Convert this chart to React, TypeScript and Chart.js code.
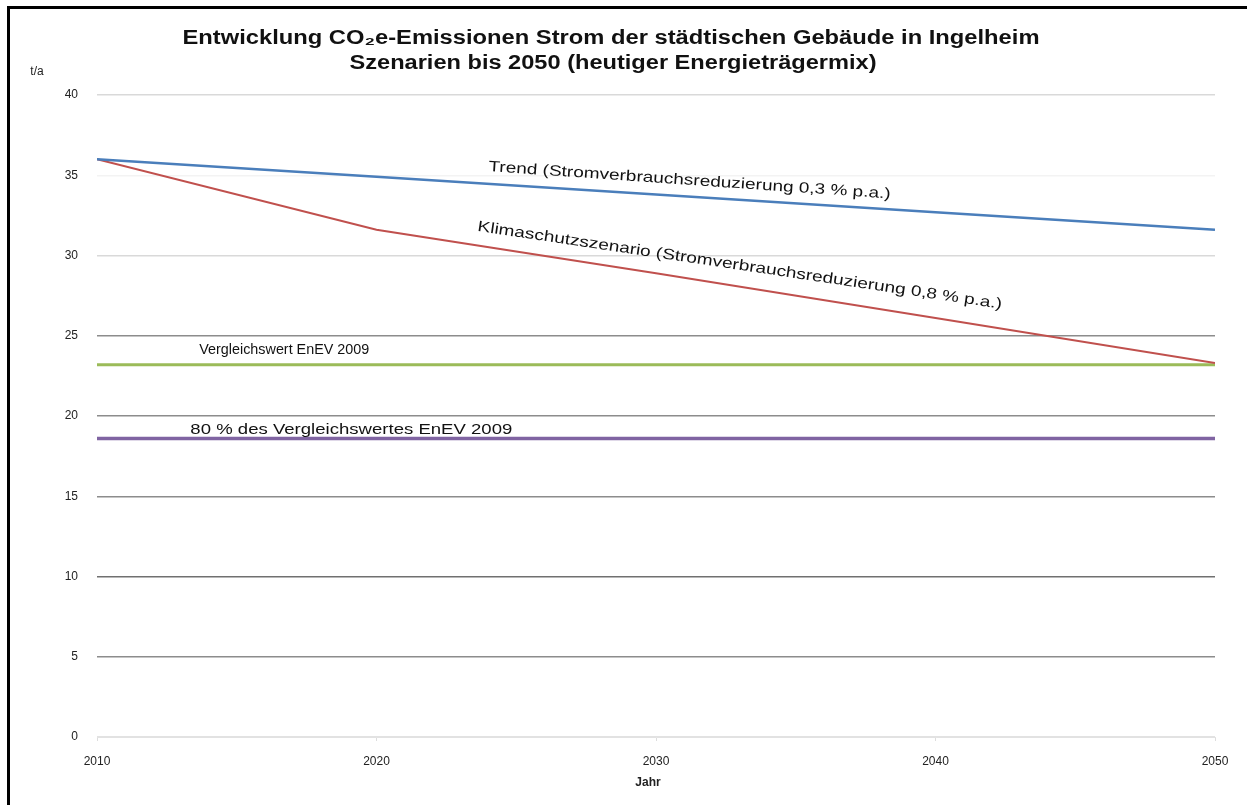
import { useEffect, useRef } from "react";
import { Chart, registerables } from "chart.js";

Chart.register(...registerables);

// Years on the x axis and the four scenario series (t/a)
const years = [2010, 2020, 2030, 2040, 2050];
const trend = [36.0, 34.9, 33.8, 32.7, 31.6];
const klimaschutz = [36.0, 31.6, 28.9, 26.1, 23.3];
const vergleichswert = [23.2, 23.2, 23.2, 23.2, 23.2];
const vergleichswert80 = [18.6, 18.6, 18.6, 18.6, 18.6];

const yTicks = [0, 5, 10, 15, 20, 25, 30, 35, 40];
const xTicks = [2010, 2020, 2030, 2040, 2050];

const titleLines = [
  "Entwicklung CO₂e-Emissionen Strom der städtischen Gebäude in Ingelheim",
  "Szenarien bis 2050 (heutiger Energieträgermix)",
];
const unitLabel = "t/a";
const xAxisLabel = "Jahr";
const seriesNames = [
  "Trend (Stromverbrauchsreduzierung 0,3 % p.a.)",
  "Klimaschutzszenario (Stromverbrauchsreduzierung 0,8 % p.a.)",
  "Vergleichswert EnEV 2009",
  "80 % des Vergleichswertes EnEV 2009",
];
const seriesColors = ["#4A7EBB", "#C0504D", "#9BBB59", "#8064A2"];
const seriesWidths = [2.5, 2, 3, 3.5];

// Where each in-chart series label sits: year of its centre, lift above the line,
// drawn width and a small tilt correction relative to the line (radians)
const labelPlacement = [
  { year: 2031.2, lift: 16, width: 403, tilt: 0.005 },
  { year: 2033.0, lift: 21, width: 530, tilt: -0.012 },
  { year: 2016.7, lift: 15, width: 170, tilt: 0 },
  { year: 2019.1, lift: 9, width: 322, tilt: 0 },
];

const seriesValues = [trend, klimaschutz, vergleichswert, vergleichswert80];

const FONT = "'Liberation Sans', Arial, sans-serif";

function drawFitted(
  ctx: CanvasRenderingContext2D,
  text: string,
  cx: number,
  cy: number,
  width: number,
  angle: number,
  font: string,
  color: string
) {
  ctx.save();
  ctx.font = font;
  ctx.fillStyle = color;
  ctx.textAlign = "center";
  ctx.textBaseline = "middle";
  const measured = ctx.measureText(text).width || 1;
  ctx.translate(cx, cy);
  ctx.rotate(angle);
  ctx.scale(width / measured, 1);
  ctx.fillText(text, 0, 0);
  ctx.restore();
}

const textPlugin = {
  id: "chartTexts",
  afterDraw(chart: any) {
    const ctx: CanvasRenderingContext2D = chart.ctx;
    const xs = chart.scales.x;
    const ys = chart.scales.y;

    drawFitted(ctx, titleLines[0], 601, 29, 857, 0, `bold 20px ${FONT}`, "#111");
    drawFitted(ctx, titleLines[1], 603, 54, 527, 0, `bold 20px ${FONT}`, "#111");

    ctx.save();
    ctx.font = `12px ${FONT}`;
    ctx.fillStyle = "#222";
    ctx.textAlign = "center";
    ctx.textBaseline = "middle";
    ctx.fillText(unitLabel, 27, 63);
    ctx.font = `bold 12px ${FONT}`;
    ctx.fillText(xAxisLabel, 638, 774);
    ctx.restore();

    labelPlacement.forEach((p, i) => {
      const vals = seriesValues[i];
      let seg = 0;
      while (seg < years.length - 2 && p.year > years[seg + 1]) seg++;
      const x0 = xs.getPixelForValue(years[seg]);
      const x1 = xs.getPixelForValue(years[seg + 1]);
      const y0 = ys.getPixelForValue(vals[seg]);
      const y1 = ys.getPixelForValue(vals[seg + 1]);
      const angle = Math.atan2(y1 - y0, x1 - x0) + p.tilt;
      const cx = xs.getPixelForValue(p.year);
      const t = (cx - x0) / (x1 - x0);
      const cy = y0 + t * (y1 - y0) - p.lift;
      drawFitted(ctx, seriesNames[i], cx, cy, p.width, angle, `15px ${FONT}`, "#111");
    });
  },
};

function gridColor(value: number) {
  if (value === 40 || value === 30) return "#d9d9d9";
  if (value === 35) return "#f3f3f3";
  if (value === 0) return "#e2e2e2";
  if (value === 10) return "#707070";
  return "#8c8c8c";
}

export default function App() {
  const canvasRef = useRef<HTMLCanvasElement | null>(null);

  useEffect(() => {
    if (!canvasRef.current) return;
    Chart.defaults.font.family = FONT;
    const chart = new Chart(canvasRef.current, {
      type: "line",
      data: {
        datasets: seriesValues.map((vals, i) => ({
          label: seriesNames[i],
          data: years.map((yr, k) => ({ x: yr, y: vals[k] })),
          borderColor: seriesColors[i],
          borderWidth: seriesWidths[i],
          pointRadius: 0,
          fill: false,
          tension: 0,
        })),
      },
      options: {
        responsive: false,
        animation: false,
        layout: { padding: { left: 0, top: 86, right: 32, bottom: 0 } },
        plugins: {
          legend: { display: false },
          title: { display: false },
          tooltip: { enabled: false },
        },
        scales: {
          x: {
            type: "linear",
            min: 2010,
            max: 2050,
            afterBuildTicks: (scale: any) => {
              scale.ticks = xTicks.map((v) => ({ value: v }));
            },
            afterFit: (scale: any) => {
              scale.height = 68;
            },
            grid: {
              drawOnChartArea: false,
              drawTicks: true,
              tickLength: 4,
              color: "#dddddd",
            },
            border: { display: true, color: "#e2e2e2" },
            ticks: {
              padding: 13,
              color: "#222",
              font: { size: 12 },
              maxRotation: 0,
              autoSkip: false,
              callback: (v: any) => String(v),
            },
          },
          y: {
            type: "linear",
            min: 0,
            max: 40,
            afterBuildTicks: (scale: any) => {
              scale.ticks = yTicks.map((v) => ({ value: v }));
            },
            afterFit: (scale: any) => {
              scale.width = 87;
            },
            grid: {
              drawTicks: false,
              lineWidth: 1.5,
              color: (c: any) => gridColor(c.tick ? c.tick.value : 0),
            },
            border: { display: false },
            ticks: {
              padding: 19,
              color: "#222",
              font: { size: 12 },
              callback: (v: any) => String(v),
            },
          },
        },
      },
      plugins: [textPlugin],
    } as any);
    return () => chart.destroy();
  }, []);

  return (
    <div
      style={{
        position: "fixed",
        left: 7,
        top: 6,
        width: 1300,
        height: 850,
        border: "3px solid #000",
        background: "#fff",
      }}
    >
      <canvas ref={canvasRef} width={1237} height={796} style={{ display: "block" }} />
    </div>
  );
}
